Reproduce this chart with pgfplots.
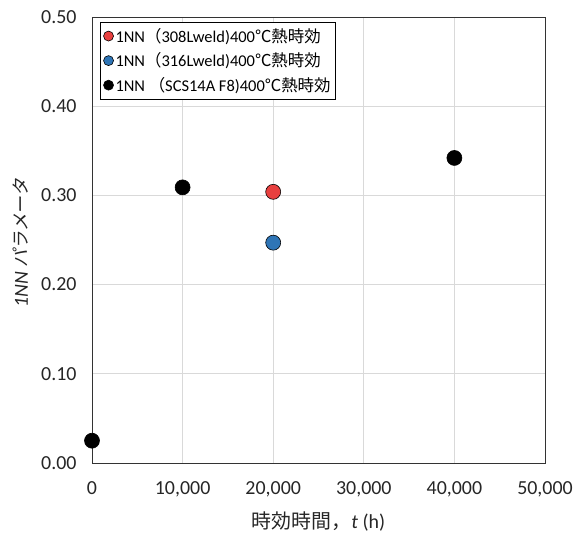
\documentclass[border=0pt]{standalone}
\usepackage{pgfplots}
\pgfplotsset{compat=1.18}
\usepackage{fontspec}
\setmainfont{Carlito}
\newfontfamily\cjk{Noto Sans CJK JP}
\newfontfamily\cjkit[FakeSlant=0.2]{Noto Sans CJK JP}
\definecolor{myred}{HTML}{E8403F}
\definecolor{myblue}{HTML}{2E75B6}
\definecolor{gridgray}{HTML}{D9D9D9}
\begin{document}
\begin{tikzpicture}
\useasboundingbox (-92bp,-70bp) rectangle (481bp,463bp);
\begin{axis}[
  scale only axis,
  width=453bp, height=446bp,
  xmin=0, xmax=50000, ymin=0, ymax=0.5,
  xtick={0,10000,20000,30000,40000,50000},
  ytick={0,0.1,0.2,0.3,0.4,0.5},
  scaled x ticks=false, scaled y ticks=false,
  xticklabel style={yshift=-15bp, /pgf/number format/.cd, 1000 sep={,}, assume math mode=true},
  yticklabel style={xshift=-12bp, /pgf/number format/.cd, fixed, fixed zerofill, precision=2, assume math mode=true},
  tick label style={font=\fontsize{20}{22}\selectfont, text=black!85},
  major tick length=0pt,
  grid=major,
  grid style={gridgray, line width=0.8pt},
  axis line style={black!80, line width=0.9pt},
  xlabel={{\cjk 時効時間，}\textit{t} (h)},
  xlabel style={font=\fontsize{20}{22}\selectfont, text=black!85, at={(axis description cs:0.5,0)}, anchor=center, yshift=-59bp},
  ylabel={{\fontsize{20}{22}\selectfont\textit{1NN}} {\cjkit パラメータ}},
  ylabel style={font=\fontsize{18}{20}\selectfont, text=black!85, at={(axis description cs:0,0.494)}, anchor=center, yshift=71bp},
  legend style={at={(0.018,0.989)}, anchor=north west, draw=black, line width=0.8pt,
    font=\fontsize{16.5}{18}\selectfont, row sep=5bp, inner xsep=3pt, inner ysep=4pt},
  legend cell align=left,
  legend image code/.code={\draw[mark repeat=2,mark phase=2,#1, mark size=5bp] plot coordinates {(0bp,0bp) (5bp,0bp) (10bp,0bp)};},
  clip=false,
]
\addplot[only marks, mark=*, mark size=7.5bp, mark options={fill=myred, draw=black, line width=0.6pt}]
  coordinates {(20000,0.304)};
\addlegendentry{1NN{\cjk （}308Lweld)400{\cjk ℃熱時効}}
\addplot[only marks, mark=*, mark size=7.5bp, mark options={fill=myblue, draw=black, line width=0.6pt}]
  coordinates {(20000,0.247)};
\addlegendentry{1NN{\cjk （}316Lweld)400{\cjk ℃熱時効}}
\addplot[only marks, mark=*, mark size=7.5bp, mark options={fill=black, draw=black, line width=0.6pt}]
  coordinates {(0,0.025) (10000,0.309) (40000,0.342)};
\addlegendentry{1NN {\cjk （}SCS14A F8)400{\cjk ℃熱時効}}
\end{axis}
\end{tikzpicture}
\end{document}
